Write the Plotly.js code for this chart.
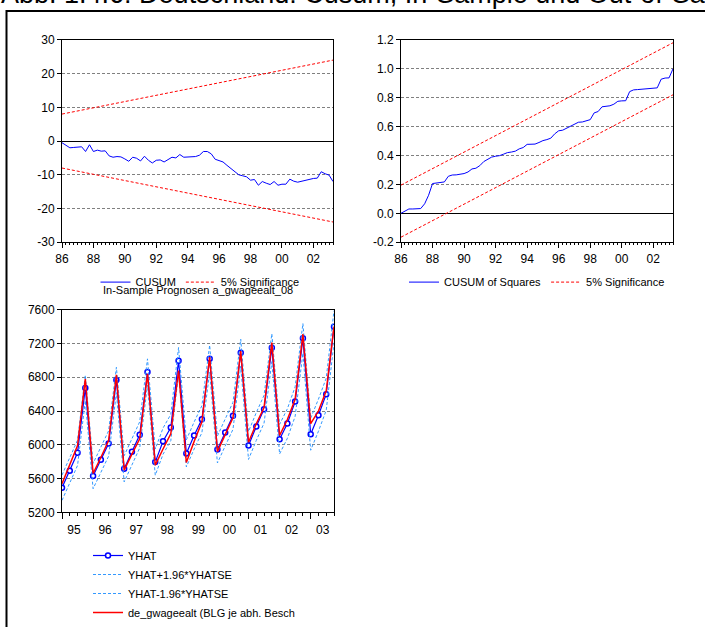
<!DOCTYPE html>
<html><head><meta charset="utf-8">
<script src="https://cdn.plot.ly/plotly-3.0.1.min.js"></script>
<style>html,body{margin:0;padding:0;background:#fff;} #chart{width:705px;height:627px;}</style>
</head><body><div id="chart"></div>
<script>
// ---------- Data ----------
const cusumStartYear = 1986;          // first quarter 1986Q1
const cusum = [-0.5,-1.3,-2.0,-1.9,-1.8,-1.7,-3.1,-1.1,-3.1,-2.7,
  -3.0,-2.9,-4.4,-4.8,-4.6,-4.7,-5.3,-6.0,-4.8,-5.1,
  -5.9,-4.5,-5.7,-6.5,-5.7,-5.6,-6.2,-5.4,-4.8,-5.0,
  -4.0,-4.8,-4.7,-4.6,-4.6,-4.2,-3.1,-3.1,-3.8,-5.4,
  -5.8,-6.2,-7.2,-8.1,-9.0,-10.0,-10.3,-10.6,-11.6,-11.4,
  -13.1,-12.0,-12.5,-12.9,-12.0,-13.1,-12.8,-12.8,-11.3,-11.9,
  -12.2,-11.9,-11.6,-11.5,-11.1,-11.0,-9.1,-9.7,-10.1,-12.0];
const boundX = [1986.0, 2003.25];
const cusumUpper = [8.0, 24.0];
const cusumLower = [-8.0, -24.0];
const cusumTickVals = [-30,-20,-10,0,10,20,30];
const cusumTickText = ['-30','-20','-10','0','10','20','30'];

const cusumsq = [0.000,0.018,0.030,0.030,0.031,0.033,0.066,0.125,0.206,0.210,
  0.212,0.217,0.256,0.265,0.266,0.268,0.275,0.286,0.307,0.312,
  0.330,0.358,0.376,0.389,0.395,0.399,0.409,0.420,0.424,0.430,
  0.446,0.455,0.477,0.478,0.479,0.490,0.503,0.510,0.520,0.550,
  0.571,0.575,0.590,0.603,0.620,0.630,0.632,0.641,0.648,0.695,
  0.704,0.737,0.741,0.744,0.755,0.775,0.778,0.779,0.842,0.854,
  0.856,0.858,0.860,0.862,0.865,0.868,0.928,0.936,0.937,1.000];
const cusumsqUpper = [0.195, 1.18];
const cusumsqLower = [-0.165, 0.82];
const sqTickVals = [-0.2,0,0.2,0.4,0.6,0.8,1.0,1.2];
const sqTickText = ['-0.2','0.0','0.2','0.4','0.6','0.8','1.0','1.2'];

const topTickVals = [1986,1988,1990,1992,1994,1996,1998,2000,2002];
const topTickText = ['86','88','90','92','94','96','98','00','02'];

const fcStartYear = 1995;             // first quarter 1995Q1
const yhat = [5492,5693,5905,6674, 5630,5823,6016,6768, 5716,5917,6118,6863,
  5795,6043,6205,6997, 5898,6110,6303,7020, 5945,6146,6343,7091,
  5992,6217,6422,7150, 6067,6252,6512,7261, 6126,6351,6599,7399];
const yhatUpper = [5642,5843,6055,6824, 5780,5973,6166,6918, 5871,6072,6273,7018,
  5950,6198,6360,7152, 6058,6270,6463,7180, 6105,6306,6503,7251,
  6157,6382,6587,7315, 6242,6427,6687,7436, 6316,6541,6789,7589];
const yhatLower = [5342,5543,5755,6524, 5480,5673,5866,6618, 5561,5762,5963,6708,
  5640,5888,6050,6842, 5738,5950,6143,6860, 5785,5986,6183,6931,
  5827,6052,6257,6985, 5892,6077,6337,7086, 5936,6161,6409,7209];
const actual = [5540,5760,5990,6780, 5660,5850,6050,6830, 5700,5890,6070,6840,
  5760,5950,6130,6880, 5790,6040,6270,7040, 5920,6120,6320,7110,
  6030,6250,6440,7210, 6110,6300,6540,7310, 6250,6400,6640,7400];
const fcTickVals = [1995,1996,1997,1998,1999,2000,2001,2002,2003];
const fcTickText = ['95','96','97','98','99','00','01','02','03'];

// ---------- helpers ----------
const qx = (start, arr) => arr.map((_, i) => start + i / 4);
const W = 705, H = 627;
const px = v => v / W, py = v => 1 - v / H;
const FONT = 'Liberation Sans, Arial, sans-serif';

const baseAxis = {
  showline: true, linecolor: '#000', linewidth: 1, mirror: true,
  ticks: 'outside', ticklen: 4, tickcolor: '#000',
  tickfont: {family: FONT, size: 12, color: '#000'},
  showgrid: true, gridcolor: '#808080', gridwidth: 1, griddash: '3px,2px',
  zeroline: false, fixedrange: true
};

const traces = [
  {x: qx(cusumStartYear, cusum), y: cusum, xaxis: 'x', yaxis: 'y', type: 'scatter', mode: 'lines',
   name: 'CUSUM', line: {color: '#0000ff', width: 1}, legend: 'legend'},
  {x: boundX, y: cusumUpper, xaxis: 'x', yaxis: 'y', type: 'scatter', mode: 'lines',
   name: '5% Significance', line: {color: '#ff0000', width: 1, dash: '3px,2px'}, legend: 'legend'},
  {x: boundX, y: cusumLower, xaxis: 'x', yaxis: 'y', type: 'scatter', mode: 'lines',
   name: '5% Significance', showlegend: false, line: {color: '#ff0000', width: 1, dash: '3px,2px'}, legend: 'legend'},

  {x: qx(cusumStartYear, cusumsq), y: cusumsq, xaxis: 'x2', yaxis: 'y2', type: 'scatter', mode: 'lines',
   name: 'CUSUM of Squares', line: {color: '#0000ff', width: 1}, legend: 'legend2'},
  {x: boundX, y: cusumsqUpper, xaxis: 'x2', yaxis: 'y2', type: 'scatter', mode: 'lines',
   name: '5% Significance', line: {color: '#ff0000', width: 1, dash: '3px,2px'}, legend: 'legend2'},
  {x: boundX, y: cusumsqLower, xaxis: 'x2', yaxis: 'y2', type: 'scatter', mode: 'lines',
   name: '5% Significance', showlegend: false, line: {color: '#ff0000', width: 1, dash: '3px,2px'}, legend: 'legend2'},

  {x: qx(fcStartYear, yhat), y: yhat, xaxis: 'x3', yaxis: 'y3', type: 'scatter', mode: 'lines+markers',
   name: 'YHAT', line: {color: '#0000ff', width: 1.2},
   marker: {symbol: 'circle', size: 5, color: '#ffffff', line: {color: '#0000ff', width: 1.5}}, legend: 'legend3'},
  {x: qx(fcStartYear, yhatUpper), y: yhatUpper, xaxis: 'x3', yaxis: 'y3', type: 'scatter', mode: 'lines',
   name: 'YHAT+1.96*YHATSE', line: {color: '#3399ff', width: 1, dash: '3px,2px'}, legend: 'legend3'},
  {x: qx(fcStartYear, yhatLower), y: yhatLower, xaxis: 'x3', yaxis: 'y3', type: 'scatter', mode: 'lines',
   name: 'YHAT-1.96*YHATSE', line: {color: '#3399ff', width: 1, dash: '3px,2px'}, legend: 'legend3'},
  {x: qx(fcStartYear, actual), y: actual, xaxis: 'x3', yaxis: 'y3', type: 'scatter', mode: 'lines',
   name: 'de_gwageealt (BLG je abh. Besch', line: {color: '#ff0000', width: 1.5}, legend: 'legend3'}
];

const topXAxis = (dom, anchor) => Object.assign({}, baseAxis, {
  domain: dom, anchor: anchor, range: [1986, 2003.25],
  tickmode: 'array', tickvals: topTickVals, ticktext: topTickText, ticklen: 5,
  showgrid: false,
  minor: {tickmode: 'linear', tick0: 1986, dtick: 0.25, ticks: 'outside', ticklen: 2, tickcolor: '#000', showgrid: false}
});

const layout = {
  width: W, height: H, autosize: false,
  margin: {l: 0, r: 0, t: 0, b: 0},
  paper_bgcolor: '#fff', plot_bgcolor: '#fff',
  font: {family: FONT, color: '#000', size: 11},
  xaxis: topXAxis([px(62), px(333)], 'y'),
  yaxis: Object.assign({}, baseAxis, {domain: [py(243), py(40)], anchor: 'x', range: [-30, 30],
    tickmode: 'array', tickvals: cusumTickVals, ticktext: cusumTickText,
    zeroline: true, zerolinecolor: '#000', zerolinewidth: 1}),
  xaxis2: topXAxis([px(401), px(673)], 'y2'),
  yaxis2: Object.assign({}, baseAxis, {domain: [py(243), py(40)], anchor: 'x2', range: [-0.2, 1.2],
    tickmode: 'array', tickvals: sqTickVals, ticktext: sqTickText,
    zeroline: true, zerolinecolor: '#000', zerolinewidth: 1}),
  xaxis3: Object.assign({}, baseAxis, {domain: [px(62), px(334)], anchor: 'y3', range: [1995, 2003.75],
    tickmode: 'array', tickvals: fcTickVals, ticktext: fcTickText, ticklen: 6, ticklabelshift: 12,
    showgrid: false,
    minor: {tickmode: 'linear', tick0: 1995, dtick: 0.25, ticks: 'outside', ticklen: 3, tickcolor: '#000', showgrid: false}}),
  yaxis3: Object.assign({}, baseAxis, {domain: [py(514), py(310.7)], anchor: 'x3', range: [5200, 7600],
    tickmode: 'linear', tick0: 5200, dtick: 400}),
  legend: {orientation: 'h', x: px(200), xanchor: 'center', y: py(283), yanchor: 'middle',
    bgcolor: 'rgba(0,0,0,0)', font: {family: FONT, size: 11, color: '#000'}, itemwidth: 30},
  legend2: {orientation: 'h', x: px(537), xanchor: 'center', y: py(283), yanchor: 'middle',
    bgcolor: 'rgba(0,0,0,0)', font: {family: FONT, size: 11, color: '#000'}, itemwidth: 30},
  legend3: {orientation: 'v', x: px(88), xanchor: 'left', y: py(543), yanchor: 'top',
    bgcolor: 'rgba(0,0,0,0)', font: {family: FONT, size: 11, color: '#000'}, itemwidth: 30, tracegroupgap: 0},
  annotations: [
    {text: 'Abb. 1.4.6: Deutschland: Cusum, In-Sample und Out-of-Sample', xref: 'paper', yref: 'paper',
     x: px(-1), xanchor: 'left', y: 1 + 6.5 / H, yanchor: 'middle', showarrow: false,
     font: {family: FONT, size: 27, color: '#000'}},
    {text: 'In-Sample Prognosen a_gwageealt_08', xref: 'paper', yref: 'paper',
     x: px(198), xanchor: 'center', y: py(291), yanchor: 'middle', showarrow: false,
     font: {family: FONT, size: 11, color: '#000'}}
  ],
  shapes: [
    {type: 'rect', xref: 'paper', yref: 'paper', x0: px(6.5), x1: 1.2, y0: -0.2, y1: py(11),
     line: {color: '#000', width: 2}, fillcolor: 'rgba(0,0,0,0)', layer: 'below'}
  ]
};

Plotly.newPlot('chart', traces, layout, {displayModeBar: false, staticPlot: true});
</script></body></html>
